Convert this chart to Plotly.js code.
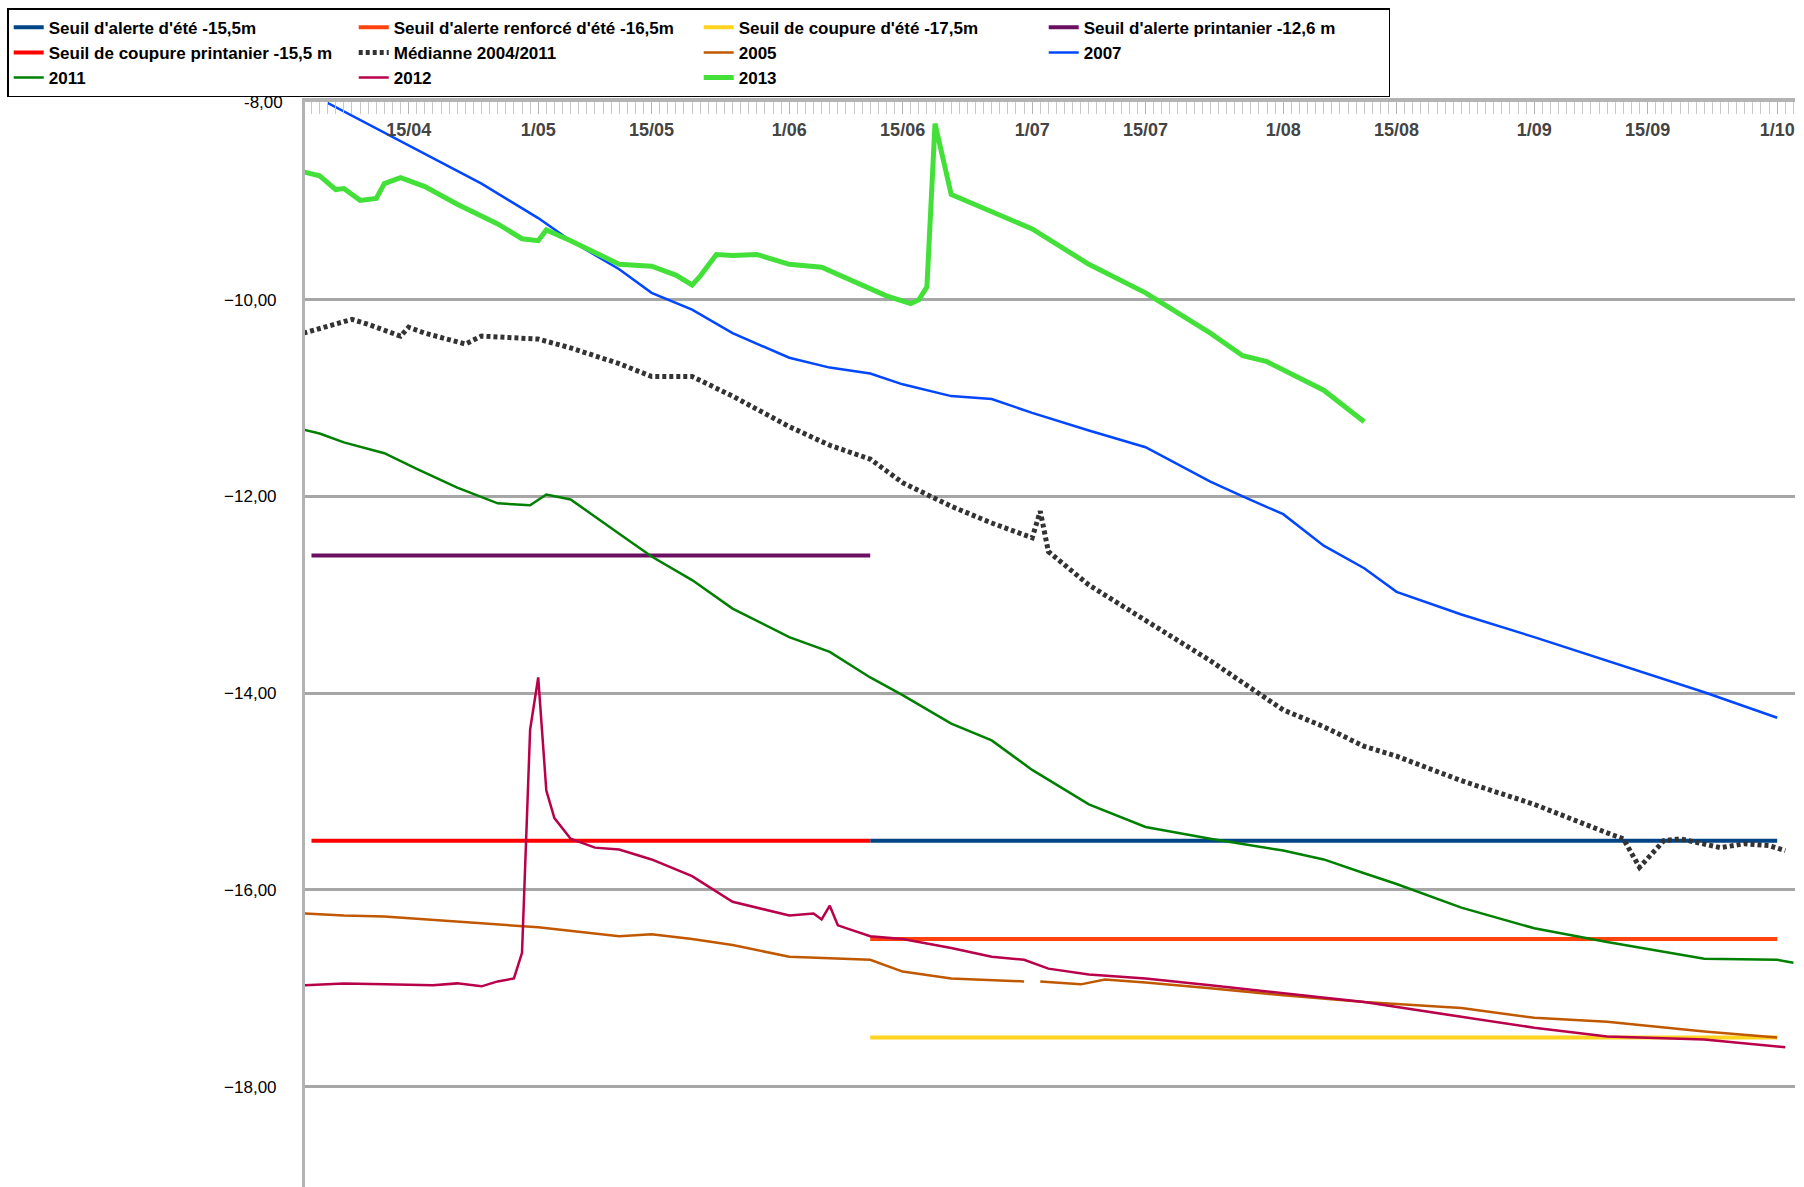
<!DOCTYPE html>
<html>
<head>
<meta charset="utf-8">
<script src="https://cdn.plot.ly/plotly-3.0.1.min.js"></script>
<style>html,body{margin:0;padding:0;background:#fff}#chart{width:1804px;height:1187px}</style>
</head>
<body>
<div id="chart"></div>
<script>
// x values are day numbers counted from 1 April (1/04 = 1, 1/05 = 31, ...)
const TICK_DAYS = [15, 31, 45, 62, 76, 92, 106, 123, 137, 154, 168, 184];
const TICK_TEXT = ["15/04", "1/05", "15/05", "1/06", "15/06", "1/07", "15/07", "1/08", "15/08", "1/09", "15/09", "1/10"];
const Y_TICKS = [-18, -16, -14, -12, -10, -8];

const SUMMER_DAYS = [72, 184];
const SPRING_DAYS = [3, 72];

const Y2007_DAYS = [5, 16, 24, 31, 35, 41, 45, 50, 55, 62, 67, 72, 76, 82, 87, 92, 99, 106, 114, 118, 123, 128, 133, 137, 145, 154, 163, 168, 175, 184];
const Y2007_VALS = [-8.0, -8.47, -8.82, -9.17, -9.4, -9.69, -9.93, -10.1, -10.34, -10.59, -10.69, -10.75, -10.86, -10.98, -11.01, -11.15, -11.33, -11.5, -11.85, -12.0, -12.18, -12.5, -12.73, -12.97, -13.2, -13.43, -13.67, -13.8, -13.99, -14.25];

const Y2013_DAYS = [2, 4, 6, 7, 9, 11, 12, 14, 17, 21, 26, 29, 31, 32, 35, 41, 45, 48, 50, 51, 53, 55, 58, 62, 66, 70, 74, 77, 78, 79, 80, 82, 87, 92, 99, 106, 114, 118, 121, 123, 128, 133];
const Y2013_VALS = [-8.7, -8.74, -8.88, -8.87, -8.99, -8.97, -8.82, -8.76, -8.85, -9.03, -9.23, -9.38, -9.4, -9.29, -9.4, -9.64, -9.66, -9.75, -9.85, -9.76, -9.54, -9.55, -9.54, -9.64, -9.67, -9.81, -9.96, -10.04, -10.0, -9.87, -8.21, -8.93, -9.1, -9.28, -9.64, -9.93, -10.34, -10.57, -10.63, -10.71, -10.92, -11.24];

const MEDIAN_DAYS = [2, 6, 8, 10, 14, 15, 17, 22, 24, 31, 35, 41, 45, 50, 55, 62, 67, 72, 76, 82, 87, 92, 93, 94, 99, 106, 114, 123, 128, 133, 137, 145, 154, 163, 165, 167, 170, 172, 177, 180, 183, 185];
const MEDIAN_VALS = [-10.34, -10.25, -10.2, -10.25, -10.37, -10.28, -10.34, -10.45, -10.37, -10.4, -10.49, -10.65, -10.78, -10.78, -10.98, -11.29, -11.48, -11.62, -11.86, -12.1, -12.27, -12.42, -12.15, -12.56, -12.9, -13.26, -13.67, -14.17, -14.34, -14.54, -14.64, -14.89, -15.13, -15.42, -15.48, -15.77, -15.5, -15.48, -15.57, -15.53, -15.55, -15.6];

const Y2011_DAYS = [2, 4, 7, 12, 16, 21, 26, 30, 32, 35, 41, 45, 50, 55, 62, 67, 72, 76, 82, 87, 92, 99, 106, 114, 123, 128, 133, 137, 145, 154, 163, 168, 175, 184, 186];
const Y2011_VALS = [-11.32, -11.36, -11.45, -11.56, -11.72, -11.91, -12.07, -12.09, -11.98, -12.03, -12.38, -12.61, -12.85, -13.14, -13.43, -13.58, -13.84, -14.02, -14.31, -14.48, -14.78, -15.13, -15.36, -15.48, -15.6, -15.69, -15.83, -15.94, -16.18, -16.39, -16.53, -16.6, -16.7, -16.71, -16.74];

const Y2005_DAYS = [2, 7, 12, 21, 31, 41, 45, 50, 55, 62, 72, 76, 82, 91, 92, 93, 98, 101, 106, 114, 123, 133, 145, 154, 163, 175, 184];
const Y2005_VALS = [-16.24, -16.26, -16.27, -16.32, -16.38, -16.47, -16.45, -16.5, -16.56, -16.68, -16.71, -16.83, -16.9, -16.93, null, -16.93, -16.96, -16.91, -16.94, -17.0, -17.07, -17.14, -17.2, -17.3, -17.34, -17.44, -17.5];

const Y2012_DAYS = [2, 4, 7, 12, 18, 21, 24, 26, 28, 29, 30, 31, 32, 33, 35, 38, 41, 45, 50, 55, 62, 65, 66, 67, 68, 72, 76, 82, 87, 91, 94, 99, 106, 114, 123, 133, 145, 154, 163, 175, 185];
const Y2012_VALS = [-16.97, -16.96, -16.95, -16.96, -16.97, -16.95, -16.98, -16.93, -16.9, -16.64, -14.37, -13.84, -14.99, -15.27, -15.48, -15.57, -15.59, -15.69, -15.86, -16.12, -16.26, -16.24, -16.3, -16.16, -16.36, -16.47, -16.5, -16.59, -16.68, -16.71, -16.8, -16.86, -16.9, -16.97, -17.05, -17.14, -17.29, -17.4, -17.49, -17.52, -17.6];

const thr = (name, days, value, color) => ({
  x: days, y: days.map(() => value), name: `<b>${name}</b>`,
  type: "scatter", mode: "lines", line: { color, width: 4 },
});
const serie = (name, x, y, color, width, dash) => ({
  x, y, name: `<b>${name}</b>`, type: "scatter", mode: "lines",
  line: { color, width, dash: dash || "solid" }, connectgaps: false,
});

const traces = [
  thr("Seuil d'alerte d'été -15,5m", SUMMER_DAYS, -15.5, "#004586"),
  thr("Seuil d'alerte renforcé d'été -16,5m", SUMMER_DAYS, -16.5, "#ff420e"),
  thr("Seuil de coupure d'été -17,5m", SUMMER_DAYS, -17.5, "#ffd320"),
  thr("Seuil d'alerte printanier -12,6 m", SPRING_DAYS, -12.6, "#6b0f62"),
  thr("Seuil de coupure printanier -15,5 m", SPRING_DAYS, -15.5, "#ff0000"),
  serie("Médianne 2004/2011", MEDIAN_DAYS, MEDIAN_VALS, "#333333", 5, "4px,3px"),
  serie("2005", Y2005_DAYS, Y2005_VALS, "#c05800", 2.5),
  serie("2007", Y2007_DAYS, Y2007_VALS, "#0047ff", 2.5),
  serie("2011", Y2011_DAYS, Y2011_VALS, "#008000", 2.5),
  serie("2012", Y2012_DAYS, Y2012_VALS, "#b8004b", 2.5),
  serie("2013", Y2013_DAYS, Y2013_VALS, "#44e03a", 5),
];

// top tick label is suppressed by plotly at the axis edge, so it is drawn as an annotation
const topTick = Y_TICKS[Y_TICKS.length - 1];

const layout = {
  width: 1804, height: 1187,
  margin: { l: 305, r: 9, t: 102, b: 0 },
  paper_bgcolor: "#fff", plot_bgcolor: "#fff",
  separators: ",.",
  font: { family: "Liberation Sans, Arial, sans-serif", size: 16, color: "#000" },
  showlegend: true,
  legend: {
    orientation: "h", xref: "container", yref: "container",
    x: 0.004, y: 0.993, xanchor: "left", yanchor: "top",
    entrywidth: 300, entrywidthmode: "pixels",
    bordercolor: "#000", borderwidth: 1.5, bgcolor: "#fff",
    font: { size: 17, color: "#000" }, itemwidth: 30, tracegroupgap: 0,
  },
  xaxis: {
    range: [2.2, 186.2], side: "top",
    tickvals: TICK_DAYS, ticktext: TICK_TEXT,
    ticklabelposition: "inside", ticks: "inside", ticklen: 12, tickcolor: "#b3b3b3", tickwidth: 1,
    ticklabelstandoff: 10,
    minor: { dtick: 1, ticks: "inside", ticklen: 12, tickcolor: "#c8c8c8", tickwidth: 1, showgrid: false },
    showgrid: false, zeroline: false,
    showline: true, linecolor: "#b3b3b3", linewidth: 4,
    tickfont: { size: 18, weight: "bold" },
  },
  yaxis: {
    range: [-19.02, -7.99], tickvals: Y_TICKS, tickformat: ".2f",
    showgrid: true, gridcolor: "#a6a6a6", gridwidth: 3,
    zeroline: false, showline: true, linecolor: "#b3b3b3", linewidth: 3,
    ticks: "", ticklabelstandoff: 22, tickfont: { size: 17 },
  },
  annotations: [{
    xref: "paper", yref: "y", x: 0, y: topTick, xanchor: "right", yanchor: "middle",
    xshift: -20, showarrow: false, text: topTick.toFixed(2).replace(".", ","),
    font: { size: 17, color: "#000" },
  }],
};

Plotly.newPlot("chart", traces, layout, { staticPlot: true });
</script>
</body>
</html>
